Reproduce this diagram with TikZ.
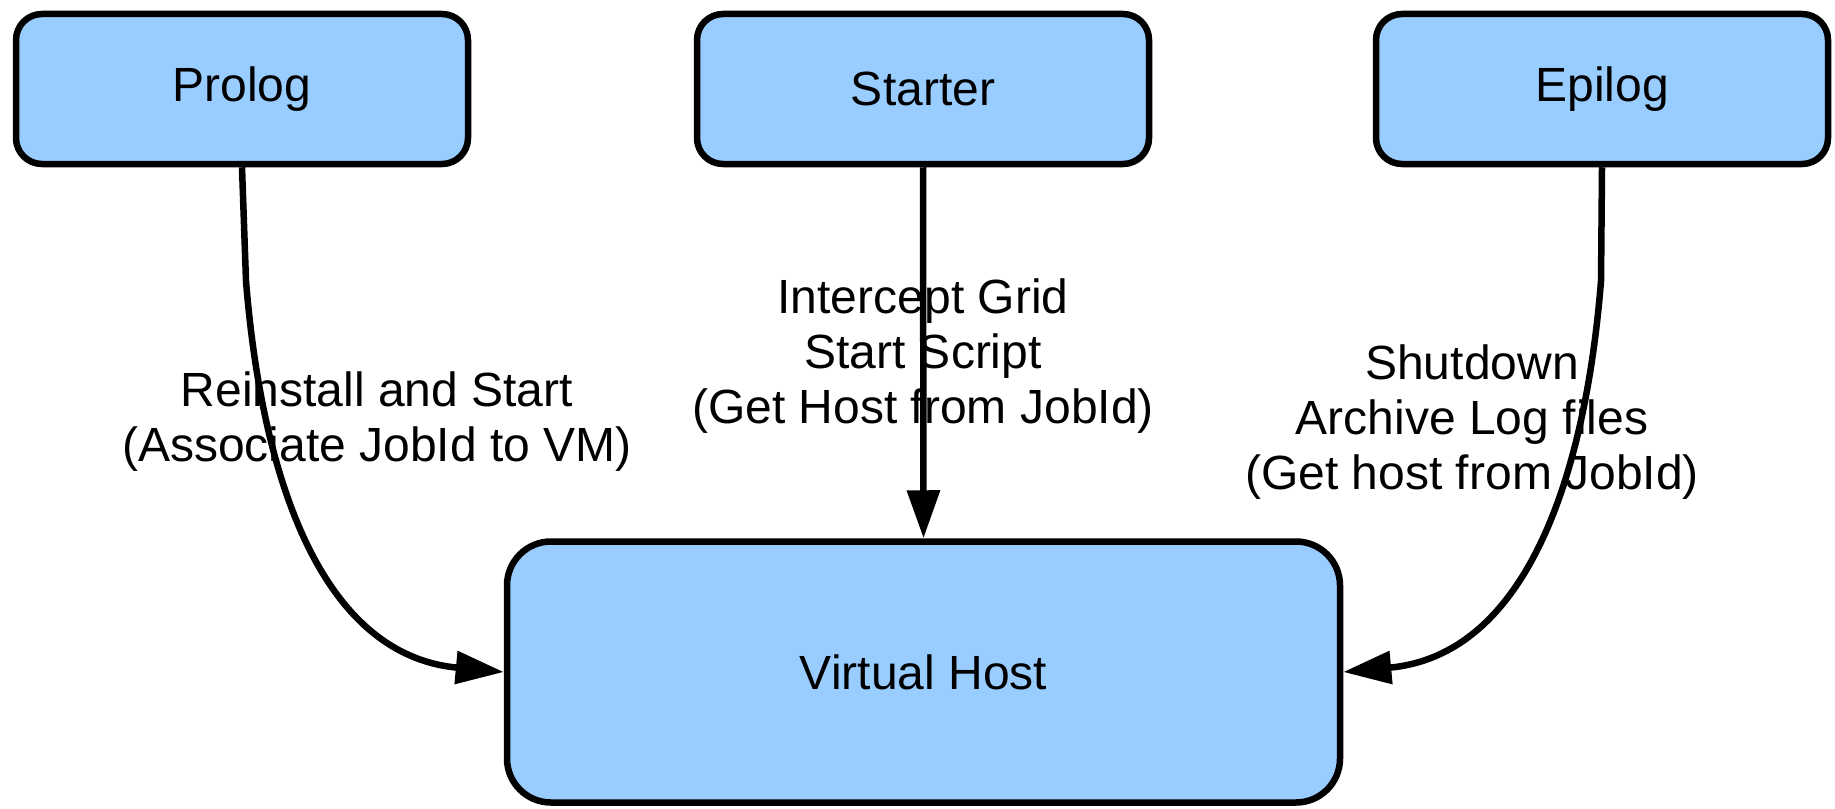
\documentclass[tikz,border=0pt]{standalone}
\usepackage{fontspec}
\setmainfont{Liberation Sans}
\usetikzlibrary{arrows.meta}
\definecolor{boxfill}{RGB}{153,204,255}
\tikzset{
  hostbox/.style={draw=black, fill=boxfill, line width=6.5pt, rounded corners=26pt,
    minimum width=452pt, minimum height=150pt, inner sep=0pt,
    font=\fontsize{48}{55}\selectfont},
  flow/.style={line width=6.5pt, -{Triangle[length=48pt,width=32pt]}},
  edgelabel/.style={align=center, inner sep=0pt, font=\fontsize{48}{55}\selectfont}
}
\begin{document}
\begin{tikzpicture}[x=1pt, y=-1pt]
\useasboundingbox (0,0) rectangle (1835,808);
% script nodes
\node[hostbox] (prolog)  at (242,89)  {Prolog};
\node[hostbox] (starter) at (923,89)  {Starter};
\node[hostbox] (epilog)  at (1602,89) {Epilog};
% target host
\node[hostbox, minimum width=833pt, minimum height=261pt, rounded corners=44pt]
  (vhost) at (923.5,672) {Virtual Host};
% bends of the side connectors
\coordinate (pbend) at (246,281);
\coordinate (ebend) at (1601,281);
% connectors
\draw[flow] (prolog.south) -- (pbend)
  .. controls (262,480) and (322,655) .. (vhost.west);
\draw[flow] (starter.south) -- (vhost.north);
\draw[flow] (epilog.south) -- (ebend)
  .. controls (1585,480) and (1525,655) .. (vhost.east);
% connector labels
\node[edgelabel] (plabel) at (377,422) {Reinstall and Start\\(Associate JobId to VM)};
\node[edgelabel] (slabel) at (923,356) {Intercept Grid\\Start Script\\(Get Host from JobId)};
\node[edgelabel] (elabel) at (1472,422) {Shutdown\\Archive Log files\\(Get host from JobId)};
\end{tikzpicture}
\end{document}
